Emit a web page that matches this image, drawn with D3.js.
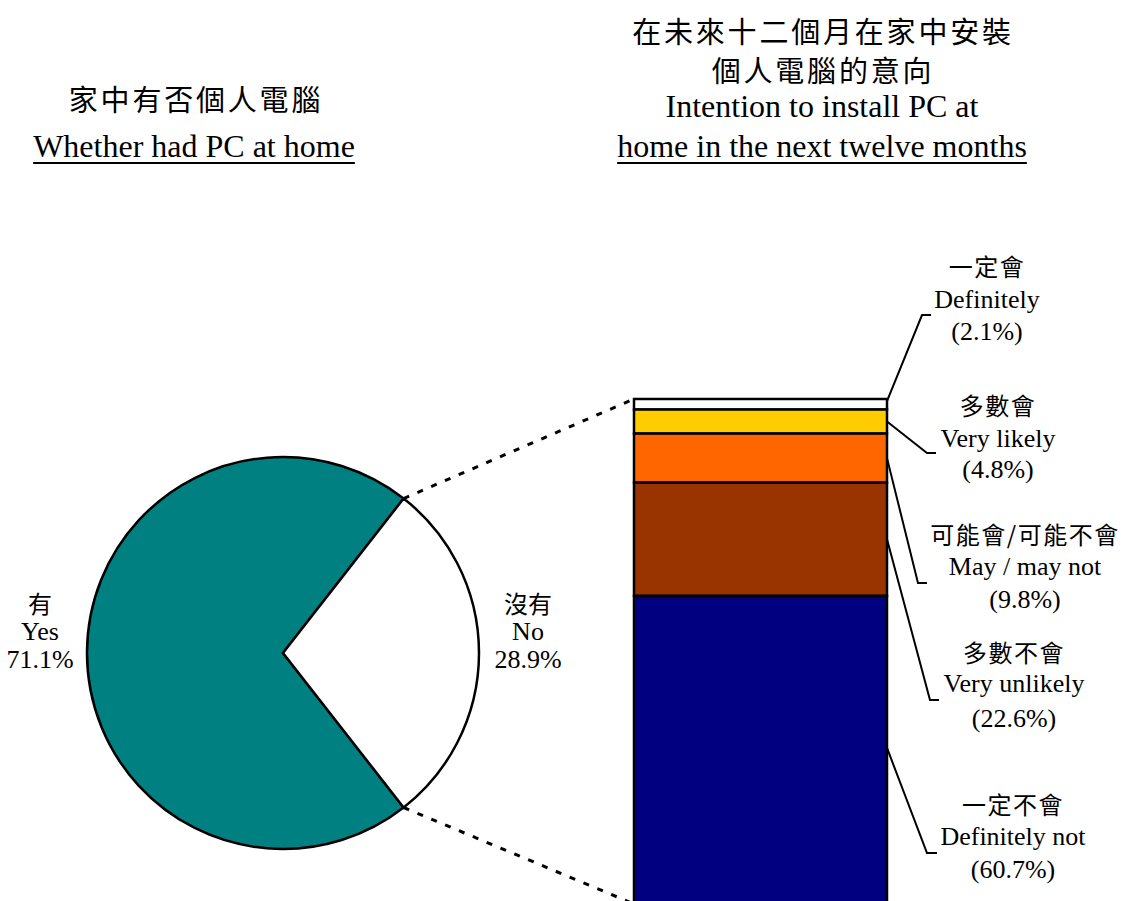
<!DOCTYPE html>
<html>
<head>
<meta charset="utf-8">
<script src="https://cdn.jsdelivr.net/npm/d3@7"></script>
<style>
  body { margin: 0; background: #fff; }
  .zh { font-family: "Noto Sans CJK TC", "Noto Sans CJK SC", sans-serif; }
  .en { font-family: "Liberation Serif", "Times New Roman", serif; }
</style>
</head>
<body>
<div id="chartPlaceholder"></div>
<script>
// pie: whether had PC at home
const pieLabelsZh = ["有", "沒有"];
const pieLabelsEn = ["Yes", "No"];
const pieValues = [71.1, 28.9];
const pieColors = ["#008080", "#ffffff"];

// bar: intention to install PC in the next twelve months (top to bottom)
const barLabelsZh = ["一定會", "多數會", "可能會/可能不會", "多數不會", "一定不會"];
const barLabelsEn = ["Definitely", "Very likely", "May / may not", "Very unlikely", "Definitely not"];
const barValues = [2.1, 4.8, 9.8, 22.6, 60.7];
const barColors = ["#ffffff", "#ffcc00", "#ff6600", "#993300", "#000080"];

const width = 1125, height = 901;

const svg = d3
  .select("#chartPlaceholder")
  .append("svg")
  .attr("width", width)
  .attr("height", height);

// ---- titles ----
function addTitle(lines) {
  lines.forEach((l) => {
    const t = svg
      .append("text")
      .attr("class", l.zh ? "zh" : "en")
      .attr("x", l.x)
      .attr("y", l.y)
      .attr("text-anchor", "middle")
      .style("font-size", l.size + "px")
      .style("letter-spacing", (l.ls || 0) + "px")
      .text(l.text);
    if (l.underline) {
      const w = t.node().getComputedTextLength();
      svg
        .append("line")
        .attr("x1", l.x - w / 2)
        .attr("x2", l.x + w / 2)
        .attr("y1", l.y + 6)
        .attr("y2", l.y + 6)
        .attr("stroke", "#000")
        .attr("stroke-width", 1.8);
    }
  });
}

addTitle([
  { text: "家中有否個人電腦", x: 196, y: 111, size: 29, ls: 2.8, zh: true },
  { text: "Whether had PC at home", x: 194, y: 157, size: 32, underline: true },
  { text: "在未來十二個月在家中安裝", x: 823, y: 43, size: 29, ls: 2.8, zh: true },
  { text: "個人電腦的意向", x: 823, y: 82, size: 29, ls: 2.8, zh: true },
  { text: "Intention to install PC at", x: 822, y: 117, size: 32 },
  { text: "home in the next twelve months", x: 822, y: 157, size: 32, underline: true },
]);

// ---- pie ----
const cx = 283, cy = 653, r = 196;
const total = d3.sum(pieValues);
const noSpan = (pieValues[1] / total) * 2 * Math.PI;
const startAngle = Math.PI / 2 - noSpan / 2 - (2 * Math.PI - noSpan);

const pie = d3
  .pie()
  .sort(null)
  .startAngle(startAngle)
  .endAngle(startAngle + 2 * Math.PI);
const arc = d3.arc().innerRadius(0).outerRadius(r);
const arcs = pie(pieValues);

const pieG = svg.append("g").attr("transform", `translate(${cx}, ${cy})`);
pieG
  .selectAll("path")
  .data(arcs)
  .join("path")
  .attr("d", arc)
  .attr("fill", (d, i) => pieColors[i])
  .attr("stroke", "#000")
  .attr("stroke-width", 2.5)
  .attr("stroke-linejoin", "miter");

const pieLabelPos = [
  { x: 40, y: 602 },
  { x: 528, y: 602 },
];
pieLabelPos.forEach((p, i) => {
  svg.append("text").attr("class", "zh").attr("x", p.x).attr("y", p.y)
    .attr("text-anchor", "middle").attr("dominant-baseline", "central")
    .style("font-size", "24px").text(pieLabelsZh[i]);
  svg.append("text").attr("class", "en").attr("x", p.x).attr("y", p.y + 38)
    .attr("text-anchor", "middle").style("font-size", "26px").text(pieLabelsEn[i]);
  svg.append("text").attr("class", "en").attr("x", p.x).attr("y", p.y + 66)
    .attr("text-anchor", "middle").style("font-size", "26px").text(pieValues[i].toFixed(1) + "%");
});

// ---- stacked bar ----
const x = d3.scaleBand().domain(["No"]).range([634, 887]).padding(0);
const y = d3.scaleLinear().domain([0, 100]).range([399, 900]);

const stacked = [];
let acc = 0;
barValues.forEach((v, i) => {
  stacked.push({ i, y0: acc, y1: acc + v, value: v });
  acc += v;
});

svg
  .append("g")
  .selectAll("rect")
  .data(stacked)
  .join("rect")
  .attr("x", x("No"))
  .attr("width", x.bandwidth())
  .attr("y", (d) => y(d.y0))
  .attr("height", (d) => y(d.y1) - y(d.y0) + (d.i === stacked.length - 1 ? 6 : 0))
  .attr("fill", (d) => barColors[d.i])
  .attr("stroke", "#000")
  .attr("stroke-width", 2.5);

// dashed connectors from the "No" slice to the bar
const noArc = arcs[1];
const ptOnPie = (a) => [cx + r * Math.sin(a), cy - r * Math.cos(a)];
const pTop = ptOnPie(noArc.startAngle);
const pBot = ptOnPie(noArc.endAngle);
[
  [pTop, [x("No"), y(0)]],
  [pBot, [x("No"), y(100) + 4]],
].forEach(([a, b]) => {
  svg
    .append("line")
    .attr("x1", a[0]).attr("y1", a[1])
    .attr("x2", b[0]).attr("y2", b[1])
    .attr("stroke", "#000")
    .attr("stroke-width", 3)
    .attr("stroke-dasharray", "6,9");
});

// leader lines + labels
const labelLayout = [
  { x: 987, zh: 265, en: 308, pct: 340, elbow: [922, 315], end: 931, from: 0.2 },
  { x: 998, zh: 404, en: 447, pct: 478, elbow: [927, 453], end: 936, from: 0.5 },
  { x: 1025, zh: 533, en: 575, pct: 608, elbow: [918, 583], end: 927, from: 0.5 },
  { x: 1014, zh: 651, en: 692, pct: 727, elbow: [930, 700], end: 939, from: 0.5 },
  { x: 1013, zh: 803, en: 845, pct: 878, elbow: [927, 853], end: 937, from: 0.5 },
];

stacked.forEach((d, i) => {
  const L = labelLayout[i];
  const sx = x("No") + x.bandwidth();
  const sy = y(d.y0 + (d.y1 - d.y0) * L.from);
  svg
    .append("path")
    .attr("d", d3.line()([[sx, sy], L.elbow, [L.end, L.elbow[1]]]))
    .attr("fill", "none")
    .attr("stroke", "#000")
    .attr("stroke-width", 2);

  svg.append("text").attr("class", "zh").attr("x", L.x).attr("y", L.zh)
    .attr("text-anchor", "middle").attr("dominant-baseline", "central")
    .style("font-size", "24px").style("letter-spacing", "1.5px").text(barLabelsZh[i]);
  svg.append("text").attr("class", "en").attr("x", L.x).attr("y", L.en)
    .attr("text-anchor", "middle").style("font-size", "26px").text(barLabelsEn[i]);
  svg.append("text").attr("class", "en").attr("x", L.x).attr("y", L.pct)
    .attr("text-anchor", "middle").style("font-size", "26px").text("(" + d.value.toFixed(1) + "%)");
});
</script>
</body>
</html>
